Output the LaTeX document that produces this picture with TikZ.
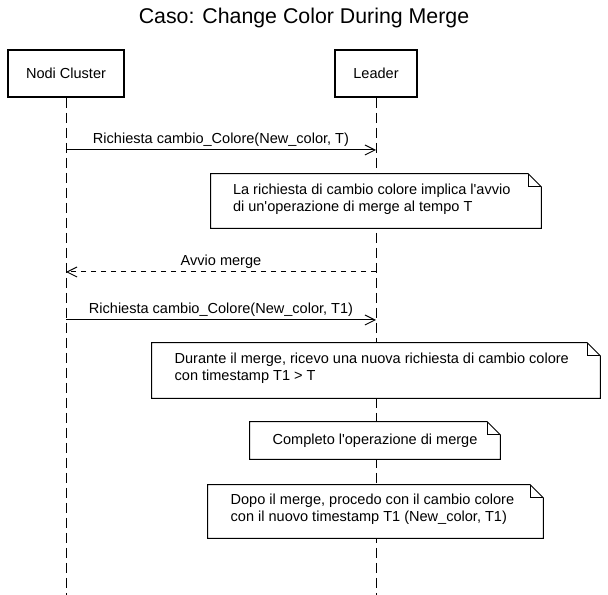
\documentclass[tikz,border=0pt]{standalone}
\usepackage{fontspec}
\setmainfont{Liberation Sans}
\usetikzlibrary{arrows.meta}
\tikzset{
  px/.style={x=0.75pt,y=-0.75pt},
  txt/.style={font=\fontsize{10.9}{12.9}\selectfont},
  actor/.style={draw, line width=1.5pt, fill=white, txt, inner sep=0pt, minimum height=35.25pt},
  lifeline/.style={line width=0.75pt, dash pattern=on 7.5pt off 3.75pt},
  msg/.style={line width=0.75pt, -{Straight Barb[length=7.5pt,width=7.5pt,line width=0.75pt]}},
  reply/.style={msg, dash pattern=on 3.75pt off 3.75pt},
  mlabel/.style={txt, above=2pt, inner sep=0pt},
  notebg/.style={fill=white, draw=none, inner sep=0pt},
  notetext/.style={txt, align=left, inner sep=0pt, anchor=west},
  noteline/.style={line width=0.75pt, line join=miter},
}
\newcommand\dognote[1]{%
  \draw[noteline] (#1.north west) -- ([xshift=-9.75pt]#1.north east)
    -- ([yshift=-9.75pt]#1.north east) -- (#1.south east) -- (#1.south west) -- cycle;
  \draw[noteline] ([xshift=-9.75pt]#1.north east) -- ([xshift=-9.75pt,yshift=-9.75pt]#1.north east)
    -- ([yshift=-9.75pt]#1.north east);}
\begin{document}
\begin{tikzpicture}[px]
\useasboundingbox (0,0) rectangle (608,595);
\fill[white] (0,0) rectangle (608,595);

\node[font=\fontsize{16}{19}\selectfont] (title) at (304,18) {Caso: Change Color During Merge};

\node[actor, minimum width=87pt] (nc) at (66,73.5) {Nodi Cluster};
\node[actor, minimum width=61.5pt] (ld) at (376,73.5) {Leader};

\coordinate (ncend) at (66,595);
\coordinate (ldend) at (376,595);
\draw[lifeline] (nc.south) -- (ncend);
\draw[lifeline] (ld.south) -- (ldend);

% messages
\coordinate (m1a) at (66,150); \coordinate (m1b) at (376,150);
\draw[msg] (m1a) -- node[mlabel] (l1) {Richiesta cambio\_Colore(New\_color, T)} (m1b);

\coordinate (m2a) at (376,272); \coordinate (m2b) at (66,272);
\draw[reply] (m2a) -- node[mlabel] (l2) {Avvio merge} (m2b);

\coordinate (m3a) at (66,320); \coordinate (m3b) at (376,320);
\draw[msg] (m3a) -- node[mlabel] (l3) {Richiesta cambio\_Colore(New\_color, T1)} (m3b);

% notes
\node[notebg, minimum width=247.5pt, minimum height=40.5pt] (n1) at (376,201) {};
\dognote{n1}
\node[notetext] (t1) at ([xshift=16.5pt,yshift=1.5pt]n1.west) {La richiesta di cambio colore implica l\textquotesingle avvio\\di un\textquotesingle operazione di merge al tempo T};

\node[notebg, minimum width=336pt, minimum height=41.25pt] (n2) at (376,370.5) {};
\dognote{n2}
\node[notetext] (t2) at ([xshift=17pt,yshift=1.5pt]n2.west) {Durante il merge, ricevo una nuova richiesta di cambio colore\\con timestamp T1 > T};

\node[notebg, minimum width=187.5pt, minimum height=27.75pt] (n3) at (375,440.5) {};
\dognote{n3}
\node[notetext] (t3) at ([xshift=17pt]n3.west) {Completo l\textquotesingle operazione di merge};

\node[notebg, minimum width=251.25pt, minimum height=39.75pt] (n4) at (375.5,511.5) {};
\dognote{n4}
\node[notetext] (t4) at ([xshift=17pt,yshift=1.5pt]n4.west) {Dopo il merge, procedo con il cambio colore\\con il nuovo timestamp T1 (New\_color, T1)};
\end{tikzpicture}
\end{document}
